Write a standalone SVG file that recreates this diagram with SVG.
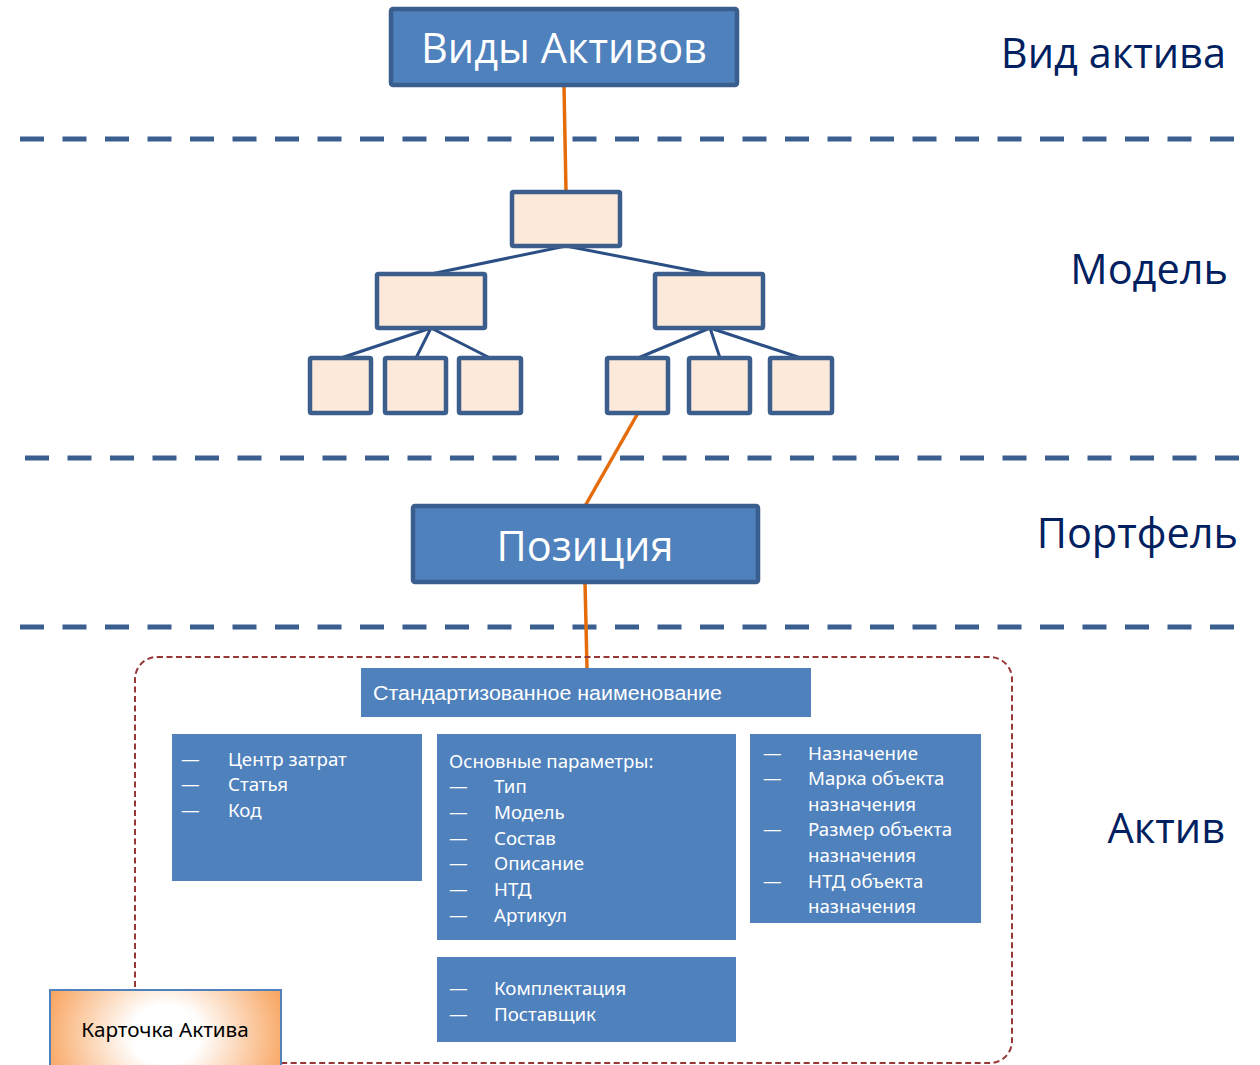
<svg xmlns="http://www.w3.org/2000/svg" width="1260" height="1065" viewBox="0 0 1260 1065">
<defs>
<radialGradient id="card" cx="50%" cy="50%" r="60%" fx="50%" fy="50%" gradientTransform="translate(0.5 0.5) scale(1 2.2) translate(-0.5 -0.5)">
<stop offset="0.25" stop-color="#ffffff"/>
<stop offset="1" stop-color="#f79646"/>
</radialGradient>
<style>
.sep{stroke:#3a5f8f;stroke-width:5;stroke-dasharray:24 18.5;fill:none}
.big{fill:#4f81bd;stroke:#3a5f8f;stroke-width:4.5}
.tree{fill:#fde9d9;stroke:#3b5e8c;stroke-width:4.5}
.tl{stroke:#2b4f84;stroke-width:3;fill:none}
.or{stroke:#e46c0a;stroke-width:3.5;fill:none}
.lbl{font-family:"Open Sans","Noto Sans",sans-serif;font-size:41.5px;fill:#002060}
.bt{font-family:"Open Sans","Noto Sans",sans-serif;font-size:41.5px;fill:#ffffff;text-anchor:middle}
.blk{fill:#4f81bd}
.it{font-family:"Noto Sans","Open Sans",sans-serif;font-size:18.7px;fill:#ffffff}
.ar{font-family:"Liberation Sans",Arial,sans-serif;font-size:20.5px;fill:#ffffff}
</style>
</defs>
<g id="separators">
<line class="sep" x1="20" y1="139" x2="1242" y2="139"/>
<line class="sep" x1="25" y1="458" x2="1242" y2="458"/>
<line class="sep" x1="20" y1="627" x2="1242" y2="627"/>
</g>
<g id="level-labels">
<text class="lbl" x="1226" y="68" text-anchor="end">Вид актива</text>
<text class="lbl" x="1228" y="284" text-anchor="end">Модель</text>
<text class="lbl" x="1238" y="548" text-anchor="end">Портфель</text>
<text class="lbl" x="1225" y="843" text-anchor="end">Актив</text>
</g>
<g id="connectors">
<line class="or" x1="564" y1="86" x2="566" y2="192"/>
<line class="or" x1="638" y1="413" x2="585" y2="506"/>
<line class="or" x1="585" y1="582" x2="587" y2="668"/>
<polyline class="tl" points="431,274 566,246 710,274"/>
<line class="tl" x1="431" y1="328" x2="341" y2="358"/>
<line class="tl" x1="431" y1="328" x2="416" y2="358"/>
<line class="tl" x1="431" y1="328" x2="490" y2="358"/>
<line class="tl" x1="710" y1="328" x2="638" y2="358"/>
<line class="tl" x1="710" y1="328" x2="720" y2="358"/>
<line class="tl" x1="710" y1="328" x2="801" y2="358"/>
</g>
<g id="asset-types">
<rect class="big" x="391" y="9" width="346" height="76" rx="2"/>
<text class="bt" x="564" y="63">Виды Активов</text>
</g>
<g id="model-root"><rect class="tree" x="512" y="192" width="108" height="54" rx="1.5"/></g>
<g id="model-left"><rect class="tree" x="377" y="274" width="108" height="54" rx="1.5"/></g>
<g id="model-right"><rect class="tree" x="655" y="274" width="108" height="54" rx="1.5"/></g>
<g id="model-l1"><rect class="tree" x="310" y="358" width="61" height="55" rx="1.5"/></g>
<g id="model-l2"><rect class="tree" x="385" y="358" width="61" height="55" rx="1.5"/></g>
<g id="model-l3"><rect class="tree" x="459" y="358" width="62" height="55" rx="1.5"/></g>
<g id="model-r1"><rect class="tree" x="607" y="358" width="61" height="55" rx="1.5"/></g>
<g id="model-r2"><rect class="tree" x="689" y="358" width="61" height="55" rx="1.5"/></g>
<g id="model-r3"><rect class="tree" x="770" y="358" width="62" height="55" rx="1.5"/></g>
<g id="position">
<rect class="big" x="413" y="506" width="345" height="76" rx="2"/>
<text class="bt" x="585" y="561">Позиция</text>
</g>
<g id="asset-frame">
<rect x="135" y="657" width="877" height="406" rx="22" fill="none" stroke="#953735" stroke-width="2" stroke-dasharray="6 3.5"/>
</g>
<g id="std-name">
<rect class="blk" x="361" y="668" width="450" height="49"/>
<text class="ar" x="373" y="700" textLength="349" lengthAdjust="spacingAndGlyphs">Стандартизованное наименование</text>
</g>
<g id="cost">
<rect class="blk" x="172" y="734" width="250" height="147"/>
<text class="it"><tspan x="181" y="766">—</tspan><tspan x="228" y="766">Центр затрат</tspan><tspan x="181" y="791">—</tspan><tspan x="228" y="791">Статья</tspan><tspan x="181" y="817">—</tspan><tspan x="228" y="817">Код</tspan></text>
</g>
<g id="params">
<rect class="blk" x="437" y="734" width="299" height="206"/>
<text class="it"><tspan x="449" y="768">Основные параметры:</tspan><tspan x="449" y="793">—</tspan><tspan x="494" y="793">Тип</tspan><tspan x="449" y="819">—</tspan><tspan x="494" y="819">Модель</tspan><tspan x="449" y="845">—</tspan><tspan x="494" y="845">Состав</tspan><tspan x="449" y="870">—</tspan><tspan x="494" y="870">Описание</tspan><tspan x="449" y="896">—</tspan><tspan x="494" y="896">НТД</tspan><tspan x="449" y="922">—</tspan><tspan x="494" y="922">Артикул</tspan></text>
</g>
<g id="purpose">
<rect class="blk" x="750" y="734" width="231" height="189"/>
<text class="it"><tspan x="763" y="760">—</tspan><tspan x="808" y="760">Назначение</tspan><tspan x="763" y="785">—</tspan><tspan x="808" y="785">Марка объекта</tspan><tspan x="808" y="811">назначения</tspan><tspan x="763" y="836">—</tspan><tspan x="808" y="836">Размер объекта</tspan><tspan x="808" y="862">назначения</tspan><tspan x="763" y="888">—</tspan><tspan x="808" y="888">НТД объекта</tspan><tspan x="808" y="913">назначения</tspan></text>
</g>
<g id="supply">
<rect class="blk" x="437" y="957" width="299" height="85"/>
<text class="it"><tspan x="449" y="995">—</tspan><tspan x="494" y="995">Комплектация</tspan><tspan x="449" y="1021">—</tspan><tspan x="494" y="1021">Поставщик</tspan></text>
</g>
<g id="asset-card">
<rect x="50" y="990" width="231" height="90" fill="url(#card)" stroke="#4f81bd" stroke-width="2"/>
<text x="165" y="1037" text-anchor="middle" font-family="Noto Sans, Open Sans, sans-serif" font-size="20.7" fill="#000000">Карточка Актива</text>
</g>
</svg>
